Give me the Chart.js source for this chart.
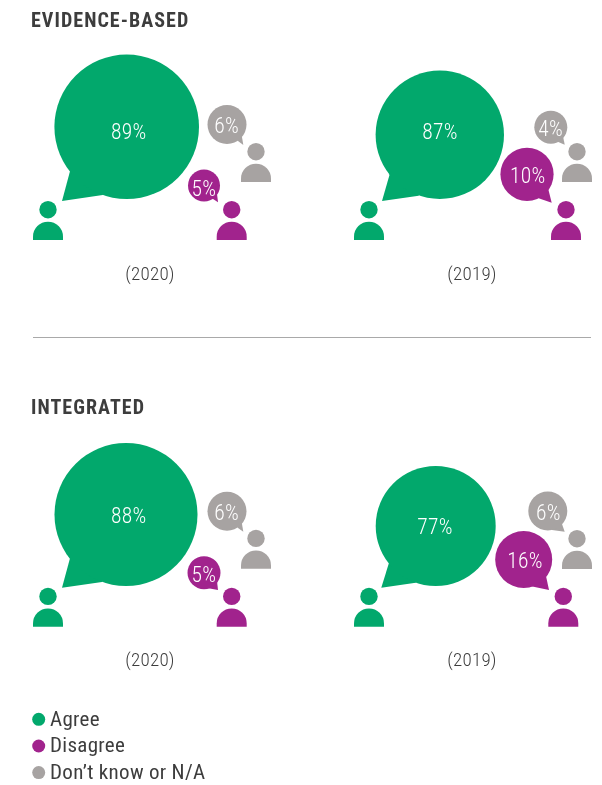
<!DOCTYPE html>
<html><head><meta charset="utf-8">
<style>html,body{margin:0;padding:0;background:#fff}canvas{display:block}</style>
<script src="https://cdn.jsdelivr.net/npm/chart.js@4"></script>
</head><body><canvas id="c" width="602" height="785"></canvas>
<script>
// ---- data ----
const categories = ['Agree', 'Disagree', 'Don\u2019t know or N/A'];
const sections = ['EVIDENCE-BASED', 'INTEGRATED'];
const years = ['(2020)', '(2019)', '(2020)', '(2019)'];
const agree = [89, 87, 88, 77];
const disagree = [5, 10, 5, 16];
const dontKnow = [6, 4, 6, 6];

// ---- styling ----
const colors = ['#02A86C', '#A1238D', '#A7A3A2'];
const inkColor = '#3D3D3D';

// ---- layout of the page, one entry per panel, per category ----
const yearPlace = [[150, 274], [472, 274], [150, 660], [472, 660]];
const sectionPlace = [[31, 21], [31, 408]];
const bubbles = [
 [[126.7,126.8,72.3],[204,185.5,16],[227,124.5,19.5]],
 [[439.8,134.8,64.2],[527,174.3,26.6],[550.8,127.2,16.5]],
 [[126,514.5,71.5],[204,572.7,16.5],[227,511.2,19.5]],
 [[435.7,526,60],[523.7,559.5,28.5],[547.8,511,19.5]]
];
const labelPlace = [
 [[128.7,133],[204,189.3],[226.7,126.7]],
 [[440,132.7],[527.7,177],[550.7,129.3]],
 [[128.7,516.7],[204,575.3],[226.7,513.3]],
 [[435,527.7],[525,562],[548.3,513.7]]
];
// tails: start on the circle, tip, end on the circle
const tails = [
 [[[70,171.3],[62,201],[102.7,195]],[[207,195],[218,202.3],[217,194]],[[238,141],[243.3,145],[241.5,134]]],
 [[[389.7,174.3],[382,201],[418.7,195.7]],[[535,197],[551.7,202.7],[548,188]],[[556,141],[564.7,144.7],[563,136]]],
 [[[70,558.3],[62,587.7],[102,582]],[[207,588],[218,590],[217,581]],[[238,528],[243.3,531.7],[241.5,521]]],
 [[[388.7,563.7],[381.3,587.7],[415.7,582.7]],[[530,586],[549,590],[546,576]],[[552,530],[564.7,531.7],[561,521]]]
];
// person anchors: centre x, bottom y
const persons = [
 [[48,240],[231.7,240],[256,182]],
 [[369,240],[566,240],[577,182]],
 [[48,626.7],[231.7,626.7],[256,568.7]],
 [[369,626.7],[563.3,626.7],[577,569]]
];
const legendPlace = [[38.7,50,719.3],[38.7,50,746],[38.7,50,772.6]];
const rule = [33, 591, 337.5];
const textDrop = 1;

const series = [agree, disagree, dontKnow];
const datasets = categories.map((label, s) => ({
  label,
  backgroundColor: colors[s],
  borderWidth: 0,
  hoverBorderWidth: 0,
  data: series[s].map((value, p) => ({
    x: bubbles[p][s][0], y: bubbles[p][s][1], r: bubbles[p][s][2], value
  }))
}));

function drawText(ctx, str, x, y, font, color, align, spacing) {
  ctx.save();
  ctx.font = font;
  ctx.fontStretch = 'condensed';
  ctx.letterSpacing = spacing || '0px';
  ctx.fillStyle = color;
  ctx.textAlign = align;
  ctx.textBaseline = 'middle';
  ctx.fillText(str, x, y + textDrop);
  ctx.restore();
}

const infographic = {
  id: 'infographic',
  beforeDatasetsDraw(chart) {
    const { ctx, scales: { x: X, y: Y } } = chart;
    const px = v => X.getPixelForValue(v), py = v => Y.getPixelForValue(v);
    persons.forEach((row, p) => row.forEach((a, s) => {
      ctx.fillStyle = colors[s];
      const cx = px(a[0]), b = py(a[1]);
      ctx.beginPath();
      ctx.arc(cx, b - 30.3, 8.7, 0, Math.PI * 2);
      ctx.fill();
      ctx.beginPath();
      ctx.moveTo(cx - 15, b);
      ctx.lineTo(cx - 15, b - 3.3);
      ctx.arc(cx, b - 3.3, 15, Math.PI, 0);
      ctx.lineTo(cx + 15, b);
      ctx.closePath();
      ctx.fill();
      const t = tails[p][s];
      ctx.beginPath();
      ctx.moveTo(px(t[0][0]), py(t[0][1]));
      ctx.lineTo(px(t[1][0]), py(t[1][1]));
      ctx.lineTo(px(t[2][0]), py(t[2][1]));
      ctx.lineTo(px(bubbles[p][s][0]), py(bubbles[p][s][1]));
      ctx.closePath();
      ctx.fill();
    }));
    ctx.strokeStyle = '#A9A9A9';
    ctx.lineWidth = 1;
    ctx.beginPath();
    ctx.moveTo(px(rule[0]), py(rule[2]));
    ctx.lineTo(px(rule[1]), py(rule[2]));
    ctx.stroke();
  },
  afterDatasetsDraw(chart) {
    const { ctx, scales: { x: X, y: Y } } = chart;
    const px = v => X.getPixelForValue(v), py = v => Y.getPixelForValue(v);
    series.forEach((vals, s) => vals.forEach((v, p) => {
      const l = labelPlace[p][s];
      drawText(ctx, v + '%', px(l[0]), py(l[1]), '300 21.5px Roboto', '#FFFFFF', 'center', '0.3px');
    }));
    sections.forEach((t, i) => drawText(ctx, t, px(sectionPlace[i][0]), py(sectionPlace[i][1]),
      '700 20px Roboto', inkColor, 'left', '1.05px'));
    years.forEach((t, i) => drawText(ctx, t, px(yearPlace[i][0]), py(yearPlace[i][1]),
      '300 19px Roboto', inkColor, 'center', '0.2px'));
    categories.forEach((t, i) => {
      const l = legendPlace[i];
      ctx.fillStyle = colors[i];
      ctx.beginPath();
      ctx.arc(px(l[0]), py(l[2]), 6.5, 0, Math.PI * 2);
      ctx.fill();
      drawText(ctx, t, px(l[1]), py(l[2]), '400 21px Roboto', inkColor, 'left', '0.3px');
    });
  }
};

new Chart(document.getElementById('c'), {
  type: 'bubble',
  data: { datasets },
  plugins: [infographic],
  options: {
    responsive: false,
    animation: false,
    layout: { padding: 0, autoPadding: false },
    plugins: { legend: { display: false }, tooltip: { enabled: false }, title: { display: false } },
    scales: {
      x: { type: 'linear', min: 0, max: 602, display: false },
      y: { type: 'linear', min: 0, max: 785, reverse: true, display: false }
    }
  }
});
</script></body></html>
